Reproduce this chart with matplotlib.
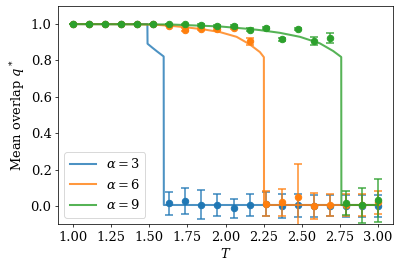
import numpy as np
import matplotlib
matplotlib.use("Agg")
import matplotlib.pyplot as plt

plt.rcParams['font.family'] = 'DejaVu Serif'
plt.rcParams['mathtext.fontset'] = 'dejavuserif'
plt.rcParams['font.size'] = 14

# simulation temperatures
T = np.linspace(1.0, 3.0, 20)

q3 = [1.0, 1.0, 1.0, 1.0, 1.0, 1.0, 0.015, 0.026, 0.007, 0.004,
      -0.014, 0.004, 0.01, 0.0, 0.004, 0.0, 0.002, 0.0, 0.0, 0.0]
e3 = [0.002, 0.002, 0.002, 0.002, 0.002, 0.002, 0.064, 0.07, 0.08, 0.062,
      0.053, 0.062, 0.064, 0.064, 0.064, 0.06, 0.06, 0.06, 0.06, 0.06]

q6 = [1.0, 1.0, 1.0, 1.0, 1.0, 1.0, 0.991, 0.97, 0.973, 0.975,
      0.98, 0.905, 0.013, 0.019, 0.051, 0.0, 0.004, 0.003, 0.004, 0.019]
e6 = [0.002, 0.002, 0.002, 0.002, 0.002, 0.002, 0.004, 0.006, 0.005, 0.005,
      0.005, 0.021, 0.07, 0.076, 0.18, 0.07, 0.059, 0.06, 0.06, 0.065]

q9 = [1.0, 1.0, 1.0, 1.0, 1.0, 1.0, 1.0, 0.998, 0.995, 0.99,
      0.99, 0.97, 0.98, 0.916, 0.973, 0.907, 0.925, 0.015, 0.004, 0.031]
e9 = [0.002, 0.002, 0.002, 0.002, 0.002, 0.002, 0.002, 0.003, 0.004, 0.004,
      0.004, 0.006, 0.005, 0.008, 0.005, 0.024, 0.027, 0.067, 0.097, 0.119]

# theory curves
T_th3 = [1.0, 1.487, 1.488, 1.52, 1.55, 1.594, 1.595, 3.0]
q_th3 = [1.0, 1.0, 0.892, 0.87, 0.85, 0.822, 0.005, 0.005]

T_th6 = [1.0, 1.4, 1.527, 1.636, 1.745, 1.855, 1.964, 2.073, 2.16, 2.226,
         2.252, 2.253, 3.0]
q_th6 = [1.0, 0.999, 0.997, 0.991, 0.982, 0.971, 0.956, 0.93, 0.888, 0.846,
         0.818, 0.005, 0.005]

T_th9 = [1.0, 1.636, 1.964, 2.16, 2.226, 2.357, 2.489, 2.62, 2.707, 2.76,
         2.761, 3.0]
q_th9 = [1.0, 0.998, 0.987, 0.973, 0.967, 0.952, 0.93, 0.894, 0.852, 0.819,
         0.005, 0.005]

alphas = [3, 6, 9]
colors = ['C0', 'C1', 'C2']
theory = [(T_th3, q_th3), (T_th6, q_th6), (T_th9, q_th9)]
sims = [(q3, e3), (q6, e6), (q9, e9)]

fig, ax = plt.subplots(figsize=(6, 269 / (400 / 6)), dpi=400 / 6)
fig.subplots_adjust(left=0.145, right=0.9825, top=0.978, bottom=0.167)

for a, c, (tt, qt), (qs, es) in zip(alphas, colors, theory, sims):
    ax.plot(tt, qt, color=c, alpha=0.8, lw=2.2, label=r'$\alpha = %d$' % a)
    ax.errorbar(T, qs, yerr=es, fmt='none', ecolor=c, alpha=0.8,
                elinewidth=1.8, capthick=1.8, capsize=4)
    ax.plot(T, qs, 'o', color=c, ms=7)

ax.set_xlim(0.9, 3.1)
ax.set_ylim(-0.1, 1.1)
ax.set_xticks(np.arange(1.0, 3.01, 0.25))
ax.set_xlabel(r'$T$')
ax.set_ylabel(r'Mean overlap $q^*$')
ax.legend(loc='lower left')

fig.savefig('out.png')
